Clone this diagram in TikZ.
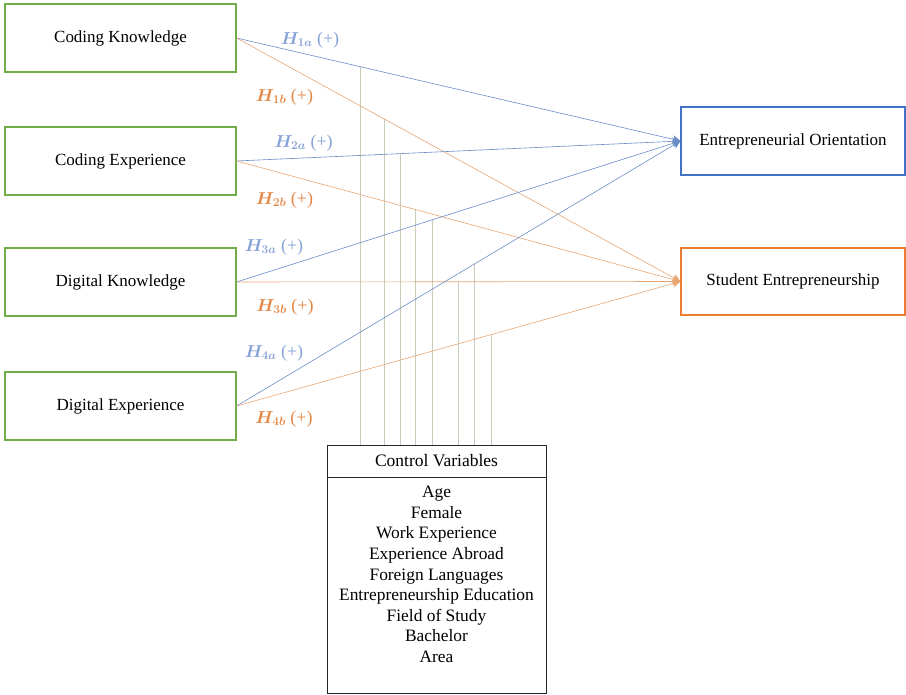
\documentclass[tikz,border=0pt]{standalone}
\usepackage{amsmath}
\usepackage{bm}
\usepackage{fontspec}
\setmainfont{Liberation Serif}
\usetikzlibrary{arrows.meta}
\definecolor{boxgreen}{RGB}{112,173,71}
\definecolor{eoblue}{RGB}{68,114,196}
\definecolor{seorange}{RGB}{237,125,49}
\definecolor{lineblue}{RGB}{105,140,200}
\definecolor{lineorange}{RGB}{230,165,115}
\definecolor{labblue}{RGB}{135,162,215}
\definecolor{laborange}{RGB}{228,135,70}
\definecolor{ctrlcol}{RGB}{200,205,185}
\tikzset{
  ivbox/.style={draw=boxgreen, line width=1.1pt, minimum width=231pt, minimum height=68pt, inner sep=0pt, font=\fontsize{17}{19}\selectfont},
  eobox/.style={draw=eoblue, line width=1.1pt, minimum width=224pt, minimum height=68pt, inner sep=0pt, font=\fontsize{17}{19}\selectfont},
  sebox/.style={draw=seorange, line width=1.1pt, minimum width=224pt, minimum height=67pt, inner sep=0pt, font=\fontsize{17}{19}\selectfont},
  cvhead/.style={draw=black!85, line width=1pt, minimum width=219pt, minimum height=32pt, inner sep=0pt, font=\fontsize{17.5}{19}\selectfont},
  cvbody/.style={draw=black!85, line width=1pt, minimum width=219pt, minimum height=216pt, inner sep=0pt},
  cvlist/.style={align=center, inner sep=0pt, font=\fontsize{17.4}{20.6}\selectfont},
  hblue/.style={draw=lineblue, line width=0.6pt, -{Stealth[length=8pt,width=8pt]}},
  horange/.style={draw=lineorange, line width=0.6pt, -{Stealth[length=8pt,width=8pt]}},
  ctrlline/.style={draw=ctrlcol, line width=0.8pt},
  hlabblue/.style={text=labblue, font=\fontsize{18}{20}\selectfont, inner sep=0pt},
  hlaborange/.style={text=laborange, font=\fontsize{18}{20}\selectfont, inner sep=0pt},
}
\begin{document}
\begin{tikzpicture}[x=1pt,y=-1pt]
\useasboundingbox (0,0) rectangle (906,695);
% left boxes
\node[ivbox] (CK) at (120.5,38) {Coding Knowledge};
\node[ivbox] (CE) at (120.5,161) {Coding Experience};
\node[ivbox] (DK) at (120.5,282) {Digital Knowledge};
\node[ivbox] (DE) at (120.5,406) {Digital Experience};
% right boxes
\node[eobox] (EO) at (793,141) {Entrepreneurial Orientation};
\node[sebox] (SE) at (793,281.5) {Student Entrepreneurship};
% control variables
\node[cvhead] (CVH) at (436.5,461) {Control Variables};
\node[cvbody] (CVB) at (436.5,585) {};
\node[cvlist, anchor=north] (CVL) at (436.5,486) {Age\\Female\\Work Experience\\Experience Abroad\\Foreign Languages\\Entrepreneurship Education\\Field of Study\\Bachelor\\Area};
% control lines
\path (CK.east) -- (EO.west) coordinate[pos=0.280] (v1);
\path (CK.east) -- (SE.west) coordinate[pos=0.3326] (v2);
\path (CE.east) -- (EO.west) coordinate[pos=0.3685] (v3);
\path (CE.east) -- (SE.west) coordinate[pos=0.4022] (v4);
\path (DK.east) -- (EO.west) coordinate[pos=0.4404] (v5);
\path (DK.east) -- (SE.west) coordinate[pos=0.4989] (v6);
\path (DE.east) -- (EO.west) coordinate[pos=0.5348] (v7);
\path (DE.east) -- (SE.west) coordinate[pos=0.5730] (v8);
\foreach \v in {v1,v2,v3,v4,v5,v6,v7,v8}{
  \draw[ctrlline] (\v) -- (\v |- CVH.north);
}
% hypothesis arrows
\draw[hblue] (CK.east) -- (EO.west);
\draw[horange] (CK.east) -- (SE.west);
\draw[hblue] (CE.east) -- (EO.west);
\draw[horange] (CE.east) -- (SE.west);
\draw[hblue] (DK.east) -- (EO.west);
\draw[horange] (DK.east) -- (SE.west);
\draw[hblue] (DE.east) -- (EO.west);
\draw[horange] (DE.east) -- (SE.west);
% labels
\node[hlabblue] (L1a) at (310,40) {$\bm{H_{1a}}$\ (+)};
\node[hlaborange] (L1b) at (284.5,97) {$\bm{H_{1b}}$\ (+)};
\node[hlabblue] (L2a) at (303.5,143) {$\bm{H_{2a}}$\ (+)};
\node[hlaborange] (L2b) at (284.5,200) {$\bm{H_{2b}}$\ (+)};
\node[hlabblue] (L3a) at (274,247) {$\bm{H_{3a}}$\ (+)};
\node[hlaborange] (L3b) at (285,307) {$\bm{H_{3b}}$\ (+)};
\node[hlabblue] (L4a) at (274,353) {$\bm{H_{4a}}$\ (+)};
\node[hlaborange] (L4b) at (284,419) {$\bm{H_{4b}}$\ (+)};
\end{tikzpicture}
\end{document}
